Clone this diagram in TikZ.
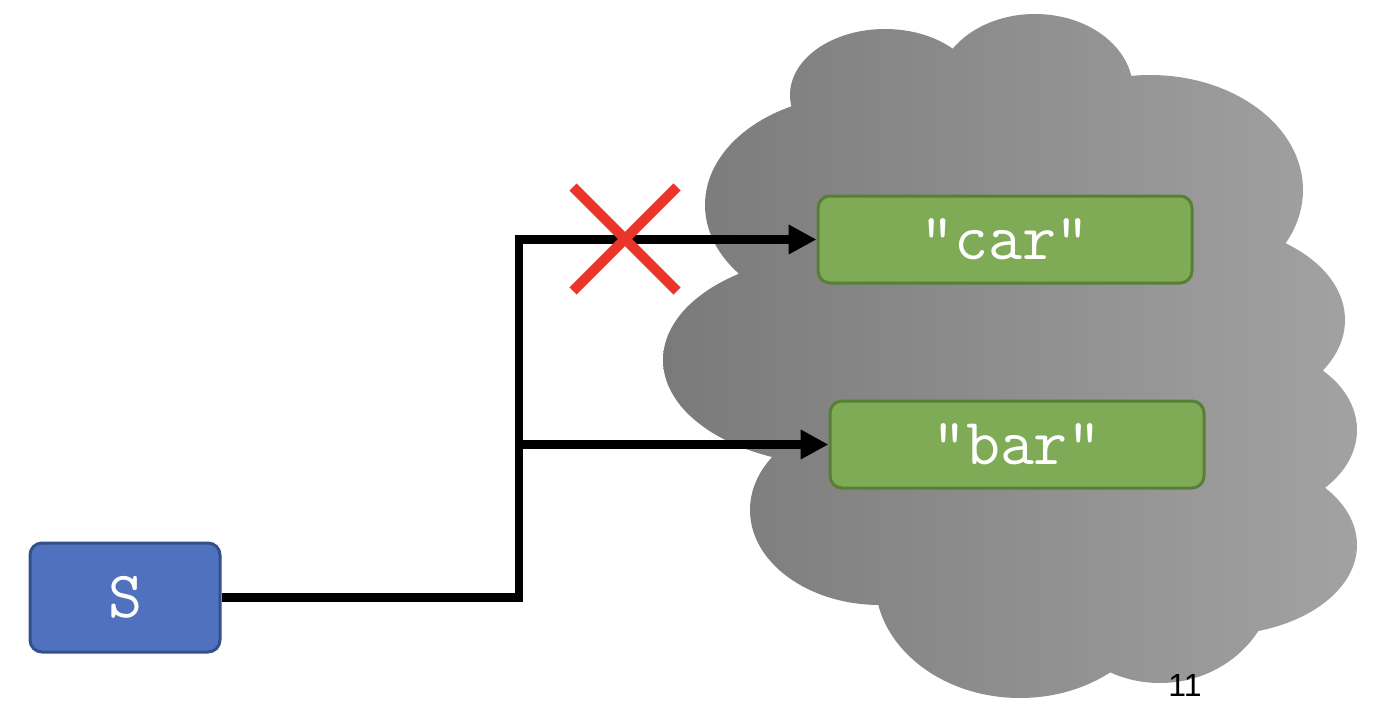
\documentclass[tikz,border=0pt]{standalone}
\usepackage{fontspec}
\setmainfont{Liberation Sans}
\usetikzlibrary{arrows.meta,positioning,shapes.misc}
\definecolor{cloudlo}{HTML}{7A7A7A}
\definecolor{cloudhi}{HTML}{A2A2A2}
\definecolor{leaf}{HTML}{7FAB56}
\definecolor{leafedge}{HTML}{587F36}
\definecolor{sky}{HTML}{5072BE}
\definecolor{skyedge}{HTML}{34508C}
\definecolor{veto}{HTML}{E9352A}

\begin{document}
\begin{tikzpicture}[
  x=0.5pt, y=-0.5pt,
  strbox/.style={draw=leafedge, line width=1.5pt, fill=leaf, rounded corners=6pt,
    minimum width=187pt, minimum height=43.5pt, inner sep=0pt,
    text=white, font=\ttfamily\fontsize{33}{33}\selectfont},
  varbox/.style={strbox, draw=skyedge, fill=sky,
    minimum width=95pt, minimum height=54.5pt},
  wire/.style={line width=4.2pt, draw=black},
  arr/.style={wire, -{Triangle[length=14pt, width=14pt]}},
  crossmark/.style={cross out, draw=veto, line width=5pt,
    minimum size=47pt, inner sep=0pt}
]
\useasboundingbox (0,0) rectangle (1378,712);
\shade[left color=cloudlo, right color=cloudhi]
  (860,205) ellipse [x radius=155, y radius=110]
  (885,95) ellipse [x radius=95, y radius=66]
  (1035,90) ellipse [x radius=98, y radius=76]
  (1150,190) ellipse [x radius=153, y radius=115]
  (1200,320) ellipse [x radius=145, y radius=95]
  (1237,430) ellipse [x radius=120, y radius=85]
  (1217,545) ellipse [x radius=140, y radius=90]
  (1020,580) ellipse [x radius=145, y radius=118]
  (1160,575) ellipse [x radius=115, y radius=108]
  (880,510) ellipse [x radius=130, y radius=95]
  (840,360) ellipse [x radius=177, y radius=105]
  (1030,380) ellipse [x radius=250, y radius=250];
\node[varbox] (s) at (125,597.5) {S};
\node[strbox] (car) at (1005,239.5) {"car"};
\node[strbox, below=57.5pt of car, xshift=6pt] (bar) {"bar"};
\coordinate (trunk) at (519,0);
\coordinate (fork) at (trunk |- bar.west);
\draw[arr] (s.east) -| (fork) |- (car.west);
\draw[arr] (fork) -- (bar.west);
\node[crossmark] (veto) at (625,239) {};
\node[font=\fontsize{16}{16}\selectfont] (slideno) at (1185,685) {11};
\end{tikzpicture}
\end{document}
